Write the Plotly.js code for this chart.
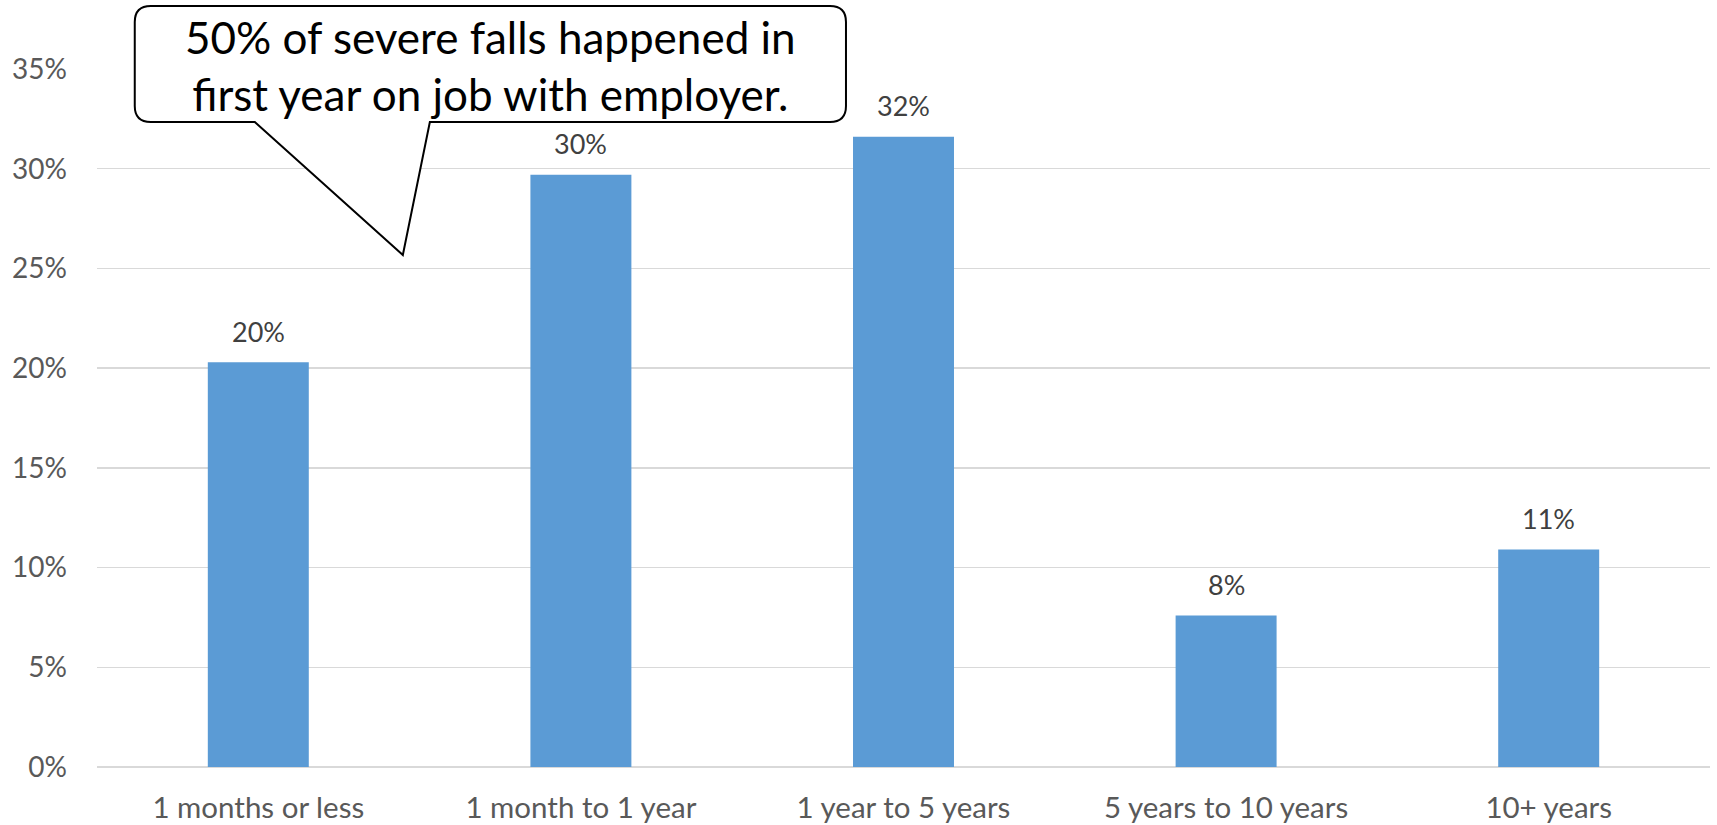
<!DOCTYPE html>
<html>
<head>
<meta charset="utf-8">
<script src="https://cdn.plot.ly/plotly-3.0.1.min.js"></script>
<style>html,body{margin:0;padding:0;background:#fff;}#chart{width:1717px;height:825px;}</style>
</head>
<body>
<div id="chart"></div>
<script>
const categories = ["1 months or less", "1 month to 1 year", "1 year to 5 years", "5 years to 10 years", "10+ years"];
const shares = [0.203, 0.297, 0.316, 0.076, 0.109];
const yTicks = [0, 0.05, 0.10, 0.15, 0.20, 0.25, 0.30, 0.35];
const yTickLabels = ["0%", "5%", "10%", "15%", "20%", "25%", "30%", "35%"];
const calloutText = "50% of severe falls happened in<br>first year on job with employer.";

const W = 1717, H = 825;
const M = {l: 97.25, r: 7.25, t: 69, b: 58};
const pw = W - M.l - M.r, ph = H - M.t - M.b;
const px = x => ((x - M.l) / pw).toFixed(5);
const py = y => ((H - M.b - y) / ph).toFixed(5);

// callout outline (pixel geometry -> paper coords)
const bx0 = 135, bx1 = 846, by0 = 6, by1 = 122, r = 16;
const P = (x, y) => px(x) + "," + py(y);
const path = "M" + P(bx0 + r, by0) +
  " L" + P(bx1 - r, by0) +
  " Q" + P(bx1, by0) + " " + P(bx1, by0 + r) +
  " L" + P(bx1, by1 - r) +
  " Q" + P(bx1, by1) + " " + P(bx1 - r, by1) +
  " L" + P(430, by1) +
  " L" + P(403, 255) +
  " L" + P(255, by1) +
  " L" + P(bx0 + r, by1) +
  " Q" + P(bx0, by1) + " " + P(bx0, by1 - r) +
  " L" + P(bx0, by0 + r) +
  " Q" + P(bx0, by0) + " " + P(bx0 + r, by0) + " Z";

const font = "Lato, 'Open Sans', sans-serif";

const trace = {
  type: "bar",
  x: categories,
  y: shares,
  marker: {color: "#5b9bd5"},
  hoverinfo: "skip"
};

const dataLabels = categories.map((c, i) => ({
  x: c, y: shares[i], xref: "x", yref: "y",
  text: Math.round(shares[i] * 100) + "%",
  showarrow: false, yanchor: "middle", yshift: 31,
  font: {family: font, size: 27, color: "#404040"}
}));

const layout = {
  width: W, height: H,
  margin: M,
  paper_bgcolor: "#fff", plot_bgcolor: "#fff",
  bargap: 0.687,
  showlegend: false,
  font: {family: font, size: 27, color: "#595959"},
  xaxis: {
    type: "category",
    showgrid: false, showline: false, zeroline: false,
    ticks: "", ticklabelstandoff: 20,
    tickfont: {family: font, size: 29.5, color: "#595959"},
    fixedrange: true
  },
  yaxis: {
    range: [0, 0.35],
    tickvals: yTicks, ticktext: yTickLabels,
    showgrid: true, gridcolor: "#d9d9d9", gridwidth: 1.5,
    zeroline: true, zerolinecolor: "#d9d9d9", zerolinewidth: 1.5,
    showline: false, ticks: "", ticklabelstandoff: 29,
    tickfont: {family: font, size: 28, color: "#595959"},
    fixedrange: true
  },
  shapes: [{
    type: "path", xref: "paper", yref: "paper", path: path,
    fillcolor: "#ffffff", line: {color: "#000000", width: 2}, layer: "above"
  }],
  annotations: dataLabels.concat([{
    xref: "paper", yref: "paper",
    x: px((bx0 + bx1) / 2), y: py(65),
    xanchor: "center", yanchor: "middle",
    text: calloutText, showarrow: false, align: "center",
    font: {family: font, size: 44, color: "#000000"}
  }])
};

Plotly.newPlot("chart", [trace], layout, {displayModeBar: false, staticPlot: true});
</script>
</body>
</html>
